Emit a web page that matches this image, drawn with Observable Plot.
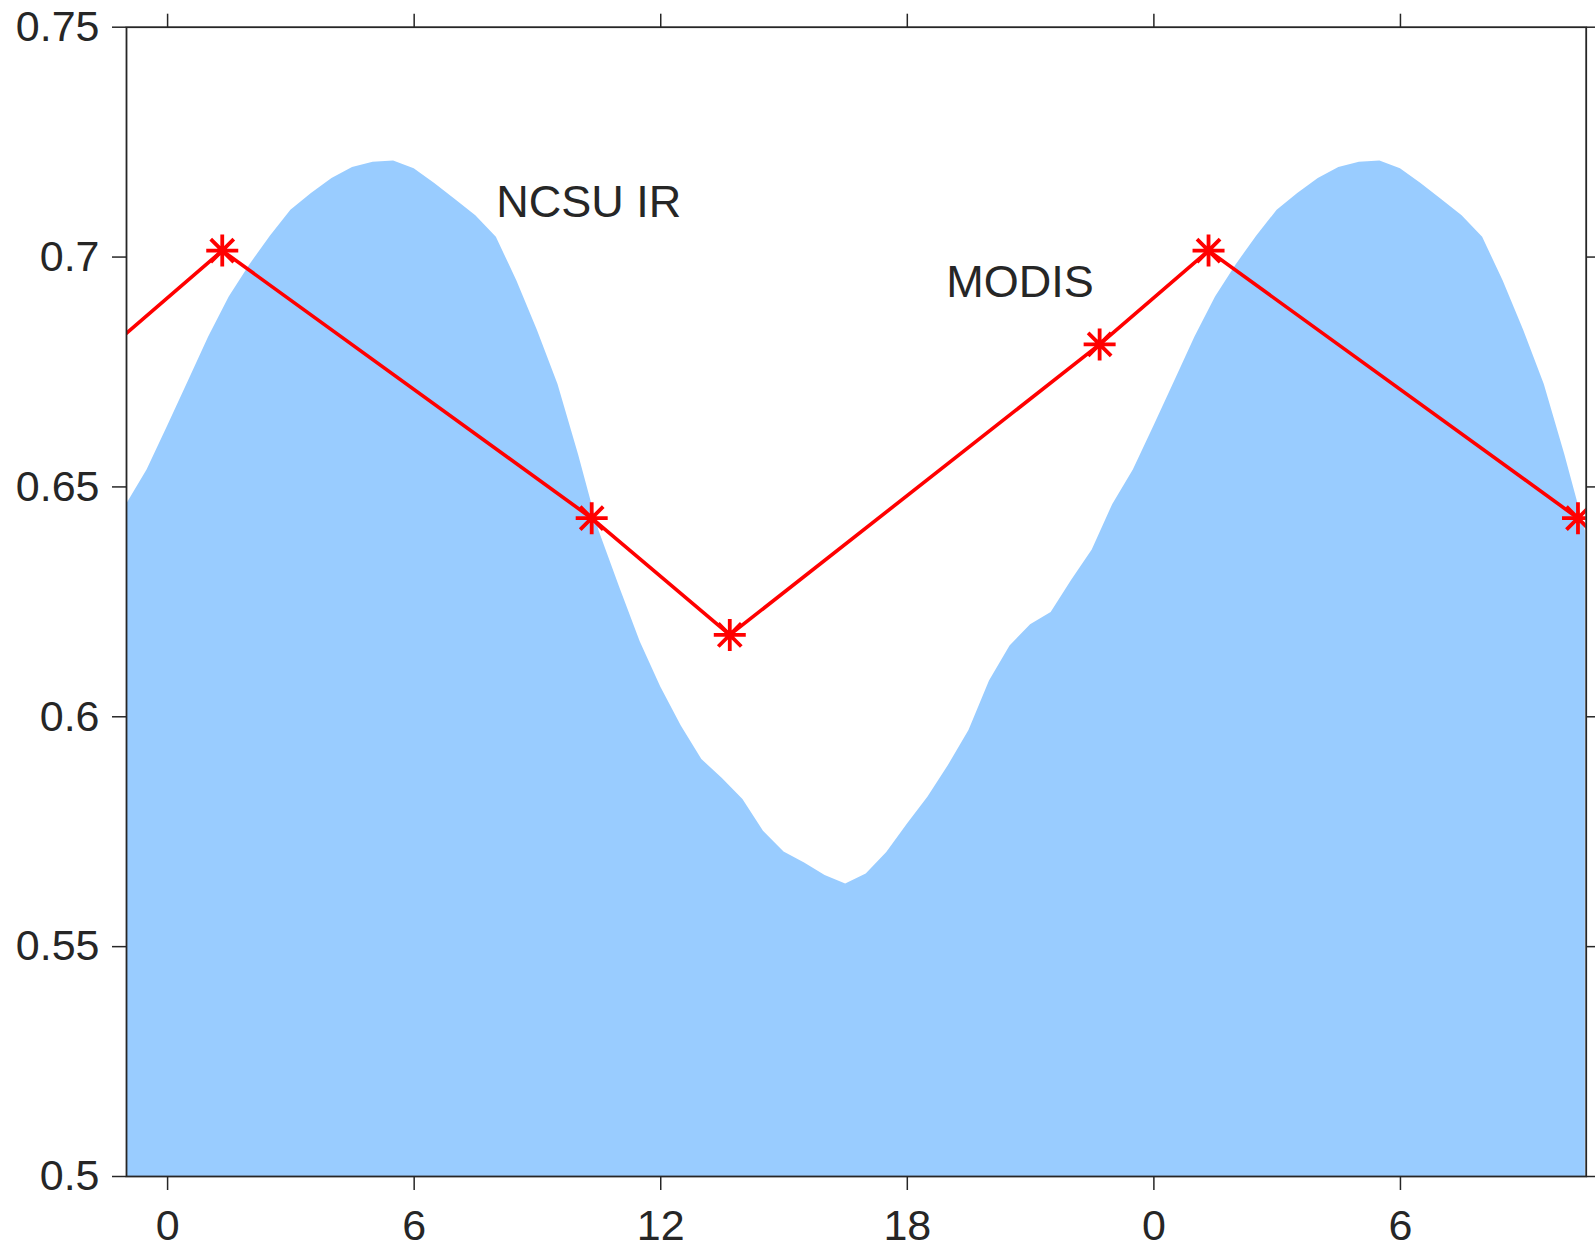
<!DOCTYPE html>
<html>
<head>
<meta charset="utf-8">
<script src="https://cdn.jsdelivr.net/npm/d3@7"></script>
<script src="https://cdn.jsdelivr.net/npm/@observablehq/plot@0.6"></script>
<style>
  html, body { margin: 0; padding: 0; background: #fff; }
  #chart svg { display: block; }
</style>
</head>
<body>
<div id="chart"></div>
<script>
// NCSU IR diurnal curve (half-hourly), hours shown from -1 to 34.5
const irHours = [-1,-0.5,0,0.5,1,1.5,2,2.5,3,3.5,4,4.5,5,5.5,6,6.5,7,7.5,8,8.5,9,9.5,10,10.5,11,11.5,12,12.5,13,13.5,14,14.5,15,15.5,16,16.5,17,17.5,18,18.5,19,19.5,20,20.5,21,21.5,22,22.5,23,23.5,24,24.5,25,25.5,26,26.5,27,27.5,28,28.5,29,29.5,30,30.5,31,31.5,32,32.5,33,33.5,34,34.5];
const irValues = [0.6462,0.6537,
  0.6632,0.6729,0.6826,0.6913,0.6983,0.7045,0.7102,0.7138,0.7171,0.7195,0.7206,0.7209,
  0.7192,0.7160,0.7125,0.7090,0.7043,0.6948,0.6840,0.6723,0.6570,0.6404,0.6282,0.6163,
  0.6065,0.5980,0.5907,0.5866,0.5820,0.5751,0.5706,0.5682,0.5655,0.5636,0.5658,0.5705,
  0.5766,0.5825,0.5894,0.5970,0.6078,0.6154,0.6200,0.6227,0.6297,0.6363,0.6462,0.6537,
  0.6632,0.6729,0.6826,0.6913,0.6983,0.7045,0.7102,0.7138,0.7171,0.7195,0.7206,0.7209,
  0.7192,0.7160,0.7125,0.7090,0.7043,0.6948,0.6840,0.6723,0.6570,0.6404];

// MODIS overpass values
const modisHours = [-1.32, 1.33, 10.32, 13.68, 22.68, 25.33, 34.32];
const modisValues = [0.681, 0.7014, 0.6432, 0.6178, 0.681, 0.7014, 0.6432];

// Axis ticks
const xTicks = [0, 6, 12, 18, 24, 30];
const xTickLabels = ["0", "6", "12", "18", "0", "6"];
const yTicks = [0.5, 0.55, 0.6, 0.65, 0.7, 0.75];
const yTickLabels = ["0.5", "0.55", "0.6", "0.65", "0.7", "0.75"];

// Annotations
const labelText = ["NCSU IR", "MODIS"];
const labelX = [8, 18.95];
const labelY = [0.7088, 0.6914];

const xMin = -1, xMax = 34.52;
const ir = irHours.map((h, i) => ({h, v: irValues[i]}));
const modis = modisHours.map((h, i) => ({h, v: modisValues[i]}));
const labels = labelText.map((t, i) => ({t, x: labelX[i], y: labelY[i]}));

const star = {
  draw(context, size) {
    const r = Math.sqrt(size / Math.PI);
    const d = r * 0.72;
    context.moveTo(-r, 0); context.lineTo(r, 0);
    context.moveTo(0, -r); context.lineTo(0, r);
    context.moveTo(-d, -d); context.lineTo(d, d);
    context.moveTo(-d, d); context.lineTo(d, -d);
  }
};

const ink = "#262626";
const font = "'Liberation Sans', Arial, Helvetica, sans-serif";
const blank = () => "";

const chart = Plot.plot({
  width: 1595,
  height: 1250,
  marginLeft: 126,
  marginRight: 9.3,
  marginTop: 26.7,
  marginBottom: 74,
  style: {fontFamily: font, background: "#fff", color: ink},
  x: {domain: [xMin, xMax]},
  y: {domain: [0.5, 0.75]},
  marks: [
    Plot.areaY(ir, {x: "h", y1: 0.5, y2: "v", fill: "#99CCFF", clip: true}),
    Plot.line(modis, {x: "h", y: "v", stroke: "#FF0000", strokeWidth: 3.6, clip: true}),
    Plot.dot(modis, {filter: d => d.h >= xMin && d.h <= xMax, x: "h", y: "v", symbol: star, r: 16, stroke: "#FF0000", strokeWidth: 3.8, fill: "none", clip: true}),
    Plot.text(labels, {x: "x", y: "y", text: "t", textAnchor: "start", lineAnchor: "bottom", fontSize: 45, fill: ink, fontFamily: font}),
    Plot.axisX({anchor: "bottom", ticks: xTicks, tickFormat: (d, i) => xTickLabels[i], tickSize: 14, tickPadding: 19, fontSize: 43, stroke: ink, strokeWidth: 1.5, fill: ink, label: null}),
    Plot.axisX({anchor: "top", ticks: xTicks, tickFormat: blank, tickSize: 14, stroke: ink, strokeWidth: 1.5, label: null}),
    Plot.axisY({anchor: "left", ticks: yTicks, tickFormat: (d, i) => yTickLabels[i], tickSize: 14, tickPadding: 13, fontSize: 43, stroke: ink, strokeWidth: 1.5, fill: ink, label: null}),
    Plot.axisY({anchor: "right", ticks: yTicks, tickFormat: blank, tickSize: 14, stroke: ink, strokeWidth: 1.5, label: null}),
    Plot.frame({stroke: ink, strokeWidth: 1.8})
  ]
});
document.getElementById("chart").appendChild(chart);
</script>
</body>
</html>
